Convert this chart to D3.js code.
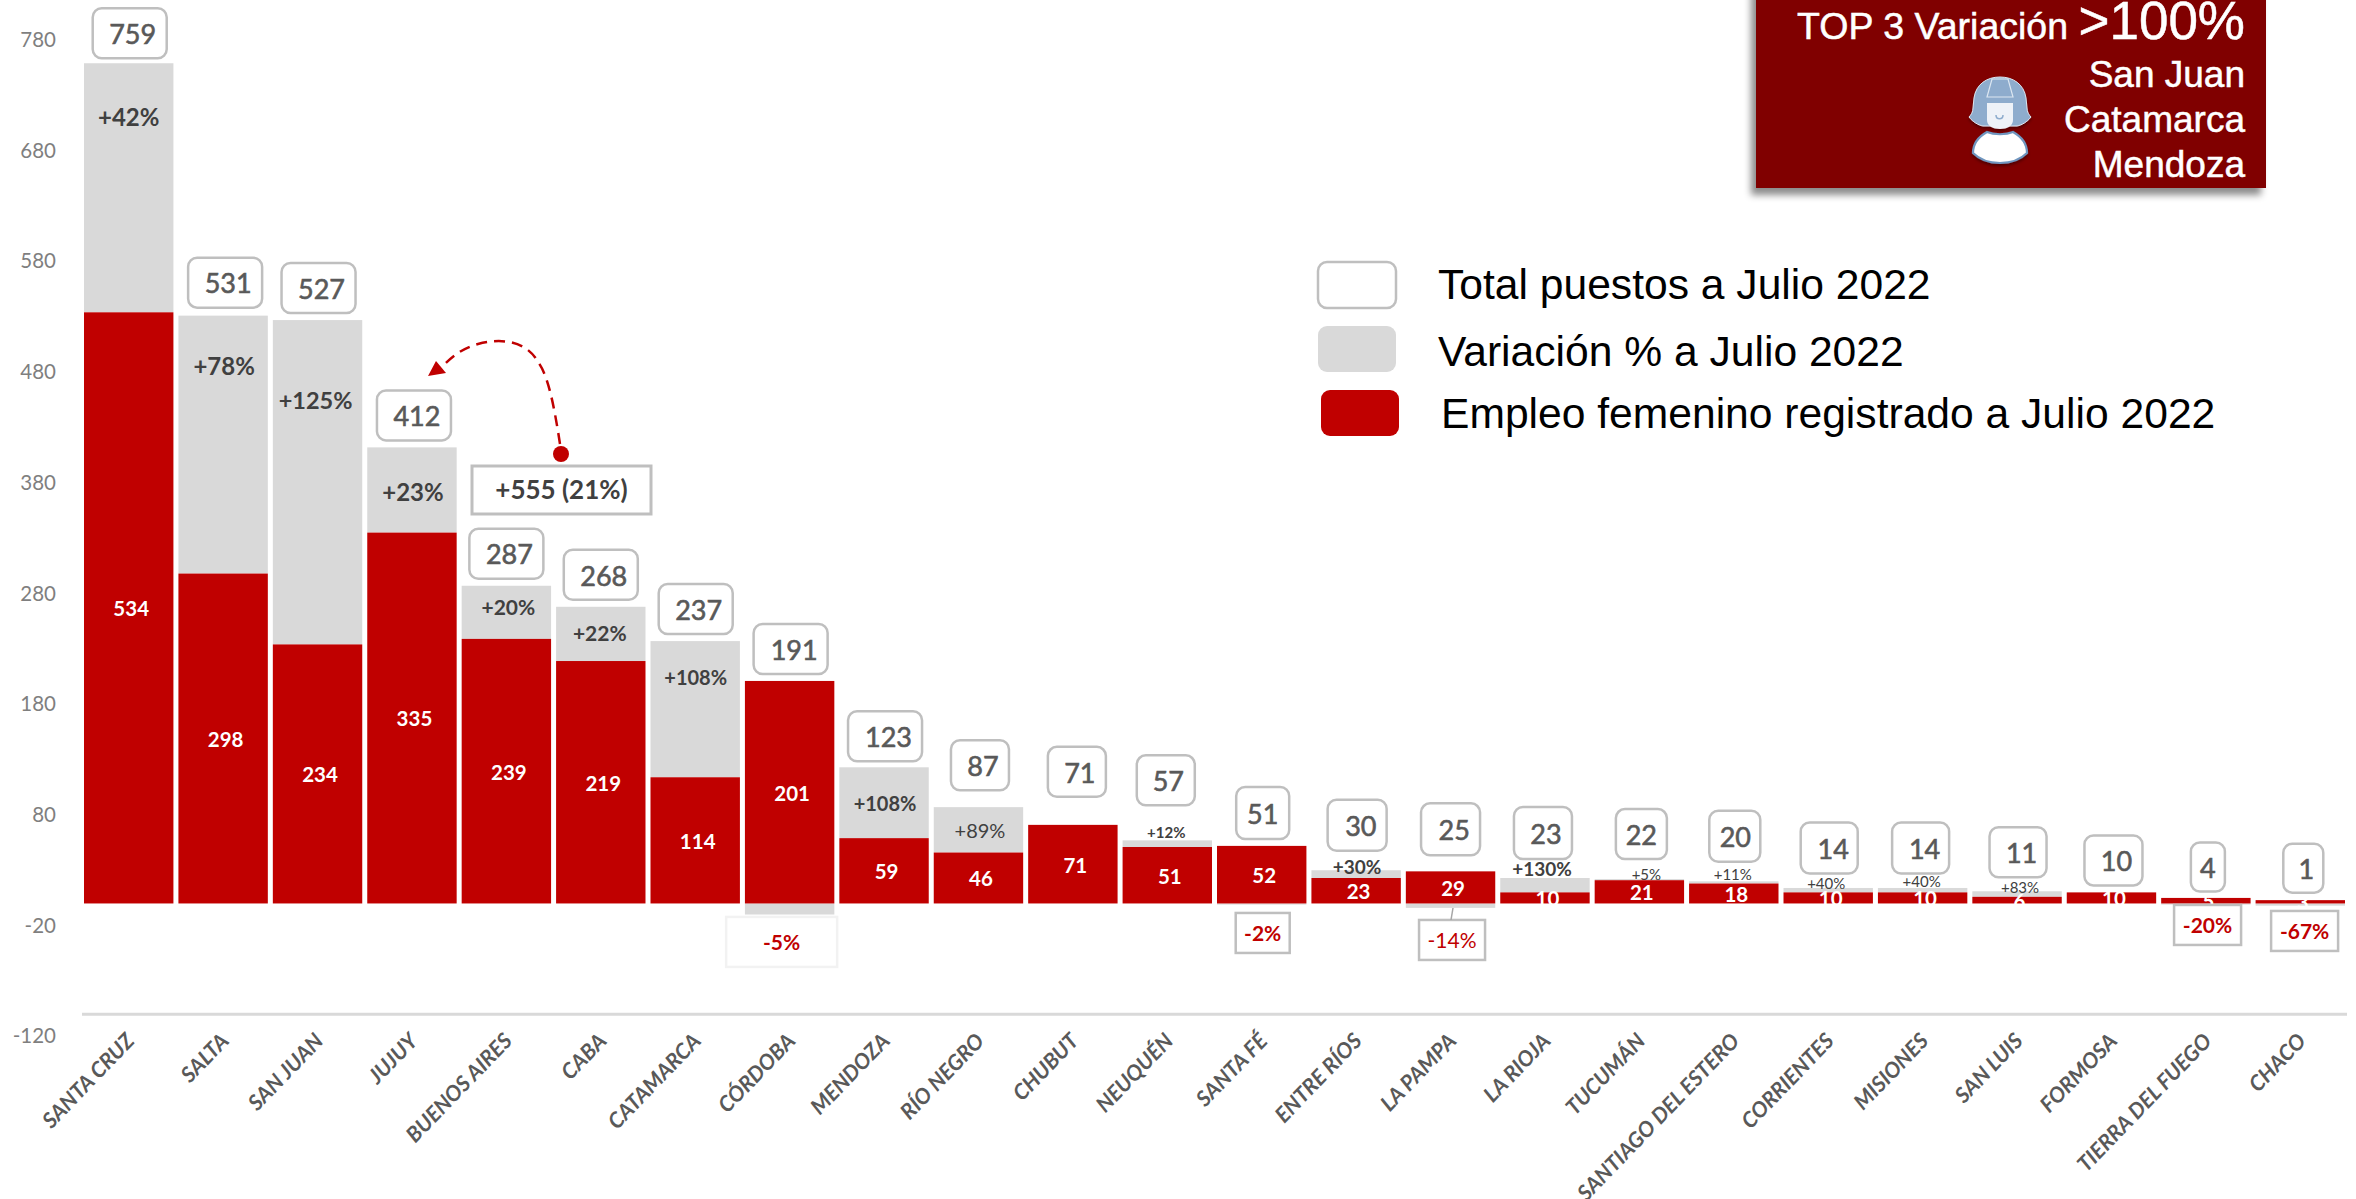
<!DOCTYPE html>
<html><head><meta charset="utf-8">
<script src="https://cdn.jsdelivr.net/npm/d3@7"></script>
<style>html,body{margin:0;padding:0;background:#fff;overflow:hidden}svg{display:block}</style>
</head><body><svg id="c" width="2356" height="1199"></svg>
<script>
// ---- data
const categories=["SANTA CRUZ","SALTA","SAN JUAN","JUJUY","BUENOS AIRES","CABA","CATAMARCA","CÓRDOBA","MENDOZA","RÍO NEGRO","CHUBUT","NEUQUÉN","SANTA FÉ","ENTRE RÍOS","LA PAMPA","LA RIOJA","TUCUMÁN","SANTIAGO DEL ESTERO","CORRIENTES","MISIONES","SAN LUIS","FORMOSA","TIERRA DEL FUEGO","CHACO"];
const femaleJobs=[534,298,234,335,239,219,114,201,59,46,71,51,52,23,29,10,21,18,10,10,6,10,5,3];
const totalJobs=[759,531,527,412,287,268,237,191,123,87,71,57,51,30,25,23,22,20,14,14,11,10,4,1];
const variation=["+42%","+78%","+125%","+23%","+20%","+22%","+108%","-5%","+108%","+89%","","+12%","-2%","+30%","-14%","+130%","+5%","+11%","+40%","+40%","+83%","","-20%","-67%"];
const yTicks=[780,680,580,480,380,280,180,80,-20,-120];
const legendLabels=["Total puestos a Julio 2022","Variación % a Julio 2022","Empleo femenino registrado a Julio 2022"];
const topProvinces=["San Juan","Catamarca","Mendoza"];
const totalChange="+555 (21%)";
// ---- layout of the hand-placed labels
const boxDx=[1,2,1,2,0,0,0.5,1,1,1.5,4,-1.5,1,1,0,-2,2,1,1,-2,1,2,2,3];
const boxTextDx=[3,3,3,3,3,3,3,3.5,3.5,3,3,2.5,0,3.7,3.7,3,0,0.5,4,4,3.5,3,0,3];
const boxLift=[30,33,32,32,32,32,32,32,31,42,53,60,33,45,42,45,45,45,40,40,39,32,31,32];
const boxW=[74,74,74,74,74,74,74,74,74,58,58,58,53,59,59,58,51,51,57,57,57,58,34,40];
const boxH=[50,50,50,50,50,50,50,50,50,50,50,50,52,51,52,52,50,51,51,51,50,50,49,49];
const pctOffset=[54,51,80,45,22,27,37,null,37,24,null,-8,null,-3,null,-9,-5,-7,-4,-6,-4,null,null,null];
const pctDx=[0,1,-2,1,2,-1,0.5,0,1,1.5,0,-1,0,1,0,-3,7,-1,-2,-1,3,0,0,0];
const pctSize=[24,24,23.5,24,21,21,20,24,20,20,0,15,24,19,24,19,15,15,15,15,15,0,24,24];
const pctWeight=[700,700,700,700,700,700,700,700,700,400,400,700,700,700,400,700,400,400,400,400,400,400,700,700];
const negDx={7:-8,12:1,14:1.5,22:1.7,23:4.3};
const negDy={7:38.5,12:29.5,14:36.5,22:21.5,23:27.5};
const negW={7:111,12:54,14:66,22:67,23:67};
const C={red:"#C00000",grey:"#D9D9D9",border:"#BFBFBF",text:"#595959",dark:"#404040",maroon:"#800000"};
const cal="Lato, Carlito, Calibri, sans-serif", ar="'Liberation Sans', Arial, sans-serif";

const svg=d3.select("#c");
const defs=svg.append("defs");
const sh=defs.append("filter").attr("id","sh").attr("x","-10%").attr("y","-10%").attr("width","120%").attr("height","130%");
sh.append("feDropShadow").attr("dx",-5).attr("dy",7).attr("stdDeviation",3.5).attr("flood-color","#000").attr("flood-opacity",.45);
const sh2=defs.append("filter").attr("id","sh2").attr("x","-20%").attr("y","-20%").attr("width","140%").attr("height","140%");
sh2.append("feDropShadow").attr("dx",0).attr("dy",2).attr("stdDeviation",1.5).attr("flood-color","#000").attr("flood-opacity",.4);

const x=d3.scaleBand().domain(categories).range([84,2345]).paddingInner(0.053);
const y=d3.scaleLinear().domain([-120,780]).range([1036.3,40]);
const cx=i=>x(categories[i])+x.bandwidth()/2;
const rows=categories.map((c,i)=>({c,i,f:femaleJobs[i],t:totalJobs[i],p:variation[i]}));

// y axis
const ya=svg.append("g").attr("transform","translate(56,0)").call(d3.axisLeft(y).tickValues(yTicks).tickSize(0).tickPadding(0).tickFormat(d=>d));
ya.select(".domain").remove();
ya.selectAll("text").attr("font-family",cal).attr("font-size",20.5).attr("fill","#7F7F7F");

// x axis at -100
const xa=svg.append("g").attr("transform",`translate(0,${y(-100)})`).call(d3.axisBottom(x).tickSize(0).tickPadding(0));
xa.select(".domain").attr("stroke",C.grey).attr("stroke-width",3).attr("d",`M82,0H2347`);
xa.selectAll("text").attr("font-family",cal).attr("font-size",21.4).attr("font-weight",700).attr("font-style","italic")
  .attr("fill",C.text).attr("text-anchor","end").attr("dy",0).attr("y",0).attr("x",0)
  .attr("transform","translate(7,28) rotate(-46)");

// bars
const bars=svg.append("g");
bars.selectAll("rect.g").data(rows.filter(d=>d.t!==d.f)).join("rect").attr("class","g")
  .attr("x",d=>x(d.c)).attr("width",x.bandwidth()).attr("fill",C.grey)
  .attr("y",d=>d.t>d.f?y(d.t):y(0)).attr("height",d=>d.t>d.f?y(d.f)-y(d.t):y(d.t-d.f)-y(0));
bars.selectAll("rect.r").data(rows).join("rect").attr("class","r")
  .attr("x",d=>x(d.c)).attr("width",x.bandwidth()).attr("fill",C.red)
  .attr("y",d=>y(d.f)).attr("height",d=>y(0)-y(d.f));
svg.append("g").selectAll("text").data(rows).join("text")
  .attr("x",d=>cx(d.i)+2.5).attr("y",d=>(y(d.f)+y(0))/2+1).attr("dy",".36em").attr("text-anchor","middle")
  .attr("font-family",cal).attr("font-weight",700).attr("font-size",20.5).attr("fill","#fff").text(d=>d.f);

// total boxes
const boxes=svg.append("g");
const barTop=d=>y(Math.max(d.t,d.f));
boxes.selectAll("rect").data(rows).join("rect")
  .attr("x",d=>cx(d.i)+boxDx[d.i]-boxW[d.i]/2).attr("y",d=>barTop(d)-boxLift[d.i]-boxH[d.i]/2)
  .attr("width",d=>boxW[d.i]).attr("height",d=>boxH[d.i]).attr("rx",9)
  .attr("fill","#fff").attr("stroke",C.border).attr("stroke-width",2.5);
boxes.selectAll("text").data(rows).join("text")
  .attr("x",d=>cx(d.i)+boxDx[d.i]+boxTextDx[d.i]).attr("y",d=>barTop(d)-boxLift[d.i]+1).attr("dy",".36em")
  .attr("text-anchor","middle").attr("font-family",cal).attr("font-size",27).attr("fill",C.text)
  .attr("stroke",C.text).attr("stroke-width",.6).text(d=>d.t);

// positive variation labels
svg.append("g").selectAll("text").data(rows.filter(d=>pctOffset[d.i]!==null)).join("text")
  .attr("x",d=>cx(d.i)+pctDx[d.i]).attr("y",d=>y(d.t)+pctOffset[d.i]).attr("dy",".36em").attr("text-anchor","middle")
  .attr("font-family",cal).attr("font-size",d=>pctSize[d.i]).attr("font-weight",d=>pctWeight[d.i]).attr("fill",C.dark).text(d=>d.p);

// negative variation boxes
const negs=rows.filter(d=>d.t<d.f);
const ng=svg.append("g");
ng.selectAll("rect").data(negs).join("rect")
  .attr("x",d=>cx(d.i)+negDx[d.i]-negW[d.i]/2).attr("y",d=>y(0)+negDy[d.i]-(d.i===7?25:20))
  .attr("width",d=>negW[d.i]).attr("height",d=>d.i===7?50:40)
  .attr("fill","#fff").attr("stroke",d=>d.i===7?"#F2F2F2":C.border).attr("stroke-width",2.5);
ng.selectAll("text").data(negs).join("text")
  .attr("x",d=>cx(d.i)+negDx[d.i]).attr("y",d=>y(0)+negDy[d.i]).attr("dy",".36em").attr("text-anchor","middle")
  .attr("font-family",cal).attr("font-size",21).attr("font-weight",d=>pctWeight[d.i]).attr("fill",C.red).text(d=>d.p);
svg.append("line").attr("x1",1453).attr("y1",908).attr("x2",1451).attr("y2",920).attr("stroke","#A6A6A6").attr("stroke-width",1.5);

// +555 callout
svg.append("rect").attr("x",472).attr("y",466).attr("width",179).attr("height",48).attr("fill","#fff").attr("stroke",C.border).attr("stroke-width",3);
svg.append("text").attr("x",561.5).attr("y",490).attr("dy",".36em").attr("text-anchor","middle").attr("font-family",cal).attr("font-size",26).attr("font-weight",700).attr("fill",C.dark).text(totalChange);
svg.append("circle").attr("cx",561).attr("cy",454).attr("r",8).attr("fill",C.red);
svg.append("path").attr("d","M560,444C554,405 548,375 538,362C526,340 500,338 478,344C463,348 452,356 441,368")
  .attr("fill","none").attr("stroke",C.red).attr("stroke-width",2.5).attr("stroke-dasharray","11 7");
svg.append("path").attr("d","M428,376L436,361L446,373Z").attr("fill",C.red);

// legend
const lg=svg.append("g");
const sw=[[1318,262,"#fff",C.border],[1318,326,C.grey,"none"],[1321,390,C.red,"none"]];
lg.selectAll("rect").data(sw).join("rect").attr("x",d=>d[0]).attr("y",d=>d[1]).attr("width",78).attr("height",46).attr("rx",9)
  .attr("fill",d=>d[2]).attr("stroke",d=>d[3]).attr("stroke-width",2.5);
lg.selectAll("text").data(legendLabels).join("text").attr("x",(d,i)=>i===2?1441:1438).attr("y",(d,i)=>[299,366,428][i])
  .attr("font-family",ar).attr("font-size",42.6).attr("fill","#000").text(d=>d);

// top 3 card
svg.append("rect").attr("x",1756).attr("y",-20).attr("width",510).attr("height",208).attr("fill",C.maroon).attr("filter","url(#sh)");
const card=svg.append("g").attr("font-family",ar).attr("fill","#fff").attr("text-anchor","end").attr("stroke","#fff").attr("stroke-width",.5);
const t=card.append("text").attr("x",2245).attr("y",39);
t.append("tspan").attr("font-size",37.5).text("TOP 3 Variación ");
t.append("tspan").attr("font-size",53).text(">100%");
card.selectAll("text.p").data(topProvinces).join("text").attr("class","p").attr("x",2245).attr("y",(d,i)=>87+i*45).attr("font-size",37).text(d=>d);

// worker icon
const ic=svg.append("g").attr("filter","url(#sh2)");
ic.append("path").attr("d","M1974,98C1976,84 1987,77 2000,77C2013,77 2024,84 2026,98L2027,108C2027,112 2029,115 2031,117C2027,122 2022,125 2017,126L1983,126C1978,125 1973,122 1969,117C1971,115 1973,112 1973,108Z").attr("fill","#8EACCD").attr("stroke","#DCE6F1").attr("stroke-width",1);
ic.append("path").attr("d","M1987,97L1992,79L2008,79L2013,97Z").attr("fill","none").attr("stroke","#DCE6F1").attr("stroke-width",1.2);
ic.append("path").attr("d","M1987,103H2013V120C2013,126 2007,129 2000,129C1993,129 1987,126 1987,120Z").attr("fill","#EEF2F8");
ic.append("path").attr("d","M1996,115C1996,120 2003,120 2003,115").attr("fill","none").attr("stroke","#8EACCD").attr("stroke-width",1.5);
ic.append("path").attr("d","M1987,132C1994,135 2006,135 2013,132C2022,137 2027,145 2027,153C2020,160 2010,163 2000,163C1990,163 1980,160 1973,153C1973,145 1978,137 1987,132Z").attr("fill","#fff").attr("stroke","#6F96BF").attr("stroke-width",2.2);
</script></body></html>
